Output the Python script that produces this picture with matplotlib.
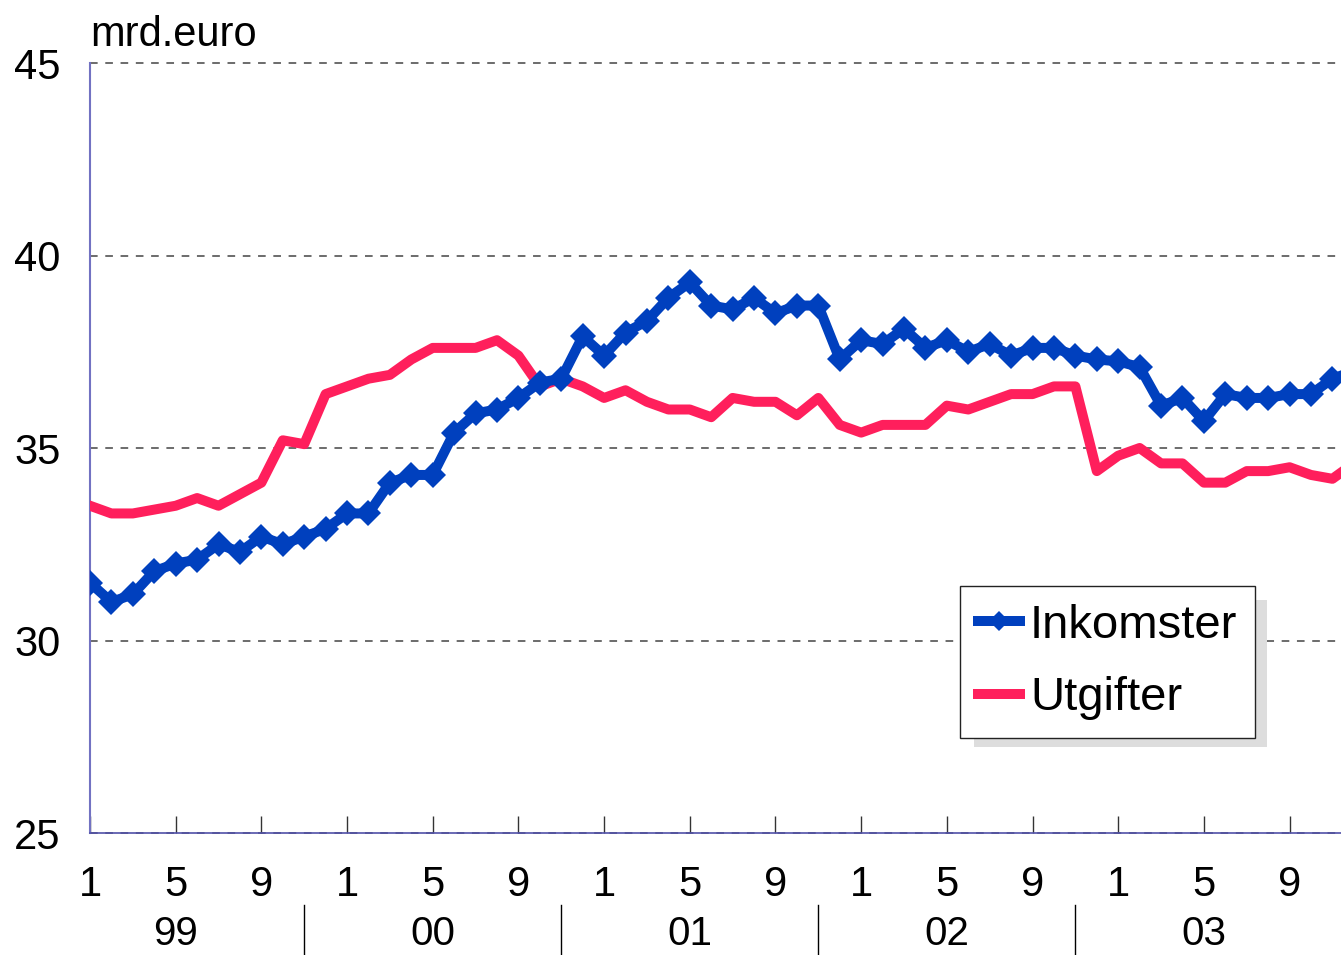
import numpy as np
import matplotlib
matplotlib.use("Agg")
import matplotlib.pyplot as plt
from matplotlib.patches import Rectangle
import matplotlib.transforms as mtrans

plt.rcParams['font.family'] = ['Liberation Sans', 'DejaVu Sans']

# monthly data, jan 1999 - dec 2003 (mrd. euro)
inkomster = [31.5, 31.0, 31.2, 31.8, 32.0, 32.1, 32.5, 32.3, 32.7, 32.5, 32.7, 32.9,
             33.3, 33.3, 34.1, 34.3, 34.3, 35.4, 35.9, 36.0, 36.3, 36.7, 36.8, 37.9,
             37.4, 38.0, 38.3, 38.9, 39.3, 38.7, 38.6, 38.9, 38.5, 38.7, 38.7, 37.3,
             37.8, 37.7, 38.1, 37.6, 37.8, 37.5, 37.7, 37.4, 37.6, 37.6, 37.4, 37.3,
             37.25, 37.1, 36.1, 36.3, 35.7, 36.4, 36.3, 36.3, 36.4, 36.4, 36.8, 37.0]
utgifter = [33.5, 33.3, 33.3, 33.4, 33.5, 33.7, 33.5, 33.8, 34.1, 35.2, 35.1, 36.4,
            36.6, 36.8, 36.9, 37.3, 37.6, 37.6, 37.6, 37.8, 37.4, 36.6, 36.8, 36.6,
            36.3, 36.5, 36.2, 36.0, 36.0, 35.8, 36.3, 36.2, 36.2, 35.85, 36.3, 35.6,
            35.4, 35.6, 35.6, 35.6, 36.1, 36.0, 36.2, 36.4, 36.4, 36.6, 36.6, 34.4,
            34.8, 35.0, 34.6, 34.6, 34.1, 34.1, 34.4, 34.4, 34.5, 34.3, 34.2, 34.6]
years = ['99', '00', '01', '02', '03']
month_labels = ['1', '5', '9']
yticks = [25, 30, 35, 40, 45]

W, H = 1341, 955
fig = plt.figure(figsize=(W / 100, H / 100), dpi=100)
ax = fig.add_axes([90 / W, 1 - 833 / H, 1 - 90 / W, 770 / H])

x = np.arange(len(inkomster))
ax.plot(x, utgifter, color='#FF1F5C', lw=7.2, solid_joinstyle='round', label='Utgifter', zorder=3)
ax.plot(x, inkomster, color='#0040BE', lw=7.2, marker='D', ms=13, mew=0,
        label='Inkomster', zorder=4)

ax.set_xlim(0, 58.4)
ax.set_ylim(25, 45)

for v in yticks:
    ax.axhline(v, color='#444444', lw=1.1, ls=(0, (5, 5)), clip_on=False, zorder=1)

ax.set_yticks(yticks)
ax.tick_params(axis='y', length=0, pad=21, labelsize=30)

xt = np.arange(0, len(inkomster), 4)
ax.set_xticks(xt)
ax.set_xticklabels([month_labels[k % 3] for k in range(len(xt))])
ax.tick_params(axis='x', direction='in', length=12, width=1, color='#333333',
               pad=23, labelsize=30)

for s in ['top', 'right']:
    ax.spines[s].set_visible(False)
ax.spines['left'].set_color('#7272C2')
ax.spines['left'].set_linewidth(1.5)
ax.spines['bottom'].set_color('#5050A8')
ax.spines['bottom'].set_linewidth(1.2)

# year labels and separators under month ticks
tr = mtrans.blended_transform_factory(ax.transData, ax.transAxes)
for k, yr in enumerate(years):
    ax.text(12 * k + 4, -0.131, yr, transform=tr, ha='center', va='center', fontsize=29)
    if k < len(years) - 1:
        xs = 12 * k + 10
        ax.plot([xs, xs], [-0.0935, -0.16], transform=tr, color='black', lw=1, clip_on=False)

fig.text(90 / W, 1 - 46 / H, 'mrd.euro', fontsize=30, ha='left', va='baseline')

# legend with flat grey shadow
h, l = ax.get_legend_handles_labels()
leg = ax.legend(h[::-1], l[::-1], loc='upper left', bbox_to_anchor=(960 / W, 1 - 586 / H),
                bbox_transform=fig.transFigure, borderaxespad=0, fontsize=34,
                frameon=True, fancybox=False, edgecolor='#222222', framealpha=1,
                handlelength=0.9, handletextpad=0.2, borderpad=0.38, labelspacing=0.6,
                markerscale=0.8)
leg.get_frame().set_linewidth(1)
leg.set_zorder(6)
shadow = Rectangle((974 / W, 1 - 747 / H), 293 / W, 147 / H, transform=fig.transFigure,
                   facecolor='#DDDDDD', edgecolor='none', zorder=5, clip_on=False)
ax.add_patch(shadow)

fig.savefig('out.png', dpi=100)
